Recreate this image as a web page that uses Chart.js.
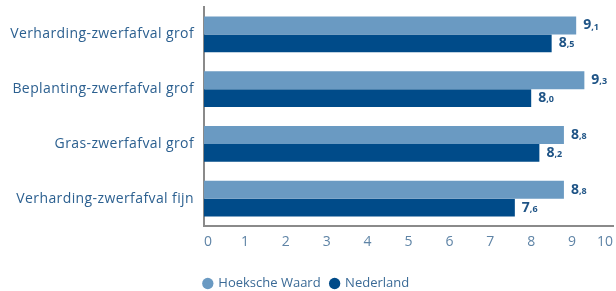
<!DOCTYPE html>
<html><head><meta charset="utf-8">
<script src="https://cdn.jsdelivr.net/npm/chart.js@4"></script>
<style>html,body{margin:0;padding:0;background:#fff;}#wrap{width:616px;height:291px;}</style>
</head><body><div id="wrap"><canvas id="c" width="616" height="291"></canvas></div>
<script>
const categories = ["Verharding-zwerfafval grof","Beplanting-zwerfafval grof","Gras-zwerfafval grof","Verharding-zwerfafval fijn"];
const hoekscheWaard = [9.1, 9.3, 8.8, 8.8];
const nederland = [8.5, 8.0, 8.2, 7.6];
const seriesNames = ["Hoeksche Waard","Nederland"];
const xTicks = [0,1,2,3,4,5,6,7,8,9,10];

const FONT = "'Open Sans'";
const labelPlugin = {
  id: 'valLabels',
  afterDatasetsDraw(chart) {
    const ctx = chart.ctx;
    ctx.save();
    ctx.fillStyle = '#1f5486';
    ctx.textBaseline = 'middle';
    ctx.textAlign = 'left';
    chart.data.datasets.forEach((ds, i) => {
      const meta = chart.getDatasetMeta(i);
      meta.data.forEach((bar, j) => {
        const v = ds.data[j];
        const s = v.toFixed(1).split('.');
        let x = bar.x + 7;
        const y = bar.y;
        ctx.font = 'bold 14px ' + FONT;
        ctx.fillText(s[0], x, y);
        x += ctx.measureText(s[0]).width;
        ctx.font = 'bold 9px ' + FONT;
        ctx.fillText(',' + s[1], x, y + 1.5);
      });
    });
    ctx.restore();
  }
};

function spaced(scale, px) {
  if (scale._spacedWrap) return;
  const orig = scale.drawLabels.bind(scale);
  scale.drawLabels = function (area) {
    const ctx = this.ctx;
    ctx.save();
    ctx.letterSpacing = px;
    orig(area);
    ctx.restore();
  };
  scale._spacedWrap = true;
}

new Chart(document.getElementById('c'), {
  type: 'bar',
  data: {
    labels: categories,
    datasets: [
      { label: seriesNames[0], data: hoekscheWaard, backgroundColor: '#6a9ac2', categoryPercentage: 0.65, barPercentage: 1.0 },
      { label: seriesNames[1], data: nederland, backgroundColor: '#004b89', categoryPercentage: 0.65, barPercentage: 1.0 }
    ]
  },
  plugins: [labelPlugin],
  options: {
    indexAxis: 'y',
    responsive: false,
    animation: false,
    layout: { padding: { top: 7, right: 3, left: 0, bottom: -9 } },
    scales: {
      x: {
        min: 0, max: 10,
        afterBuildTicks(scale) { scale.ticks = xTicks.map(v => ({ value: v })); },
        grid: { display: false, drawTicks: false },
        border: { display: true, color: '#8a8a8a', width: 2 },
        ticks: { align: 'inner', padding: 8, color: '#5f84a6', font: { family: FONT, size: 14 } },
        afterFit(scale) { scale.height = 41; scale.paddingRight = 0; scale.paddingLeft = 0; }
      },
      y: {
        grid: { display: false, drawTicks: false },
        border: { display: true, color: '#8a8a8a', width: 2 },
        ticks: { padding: 10, color: '#2c6090', font: { family: FONT, size: 14 } },
        afterFit(scale) { scale.width = 204; scale.paddingTop = 0; scale.paddingBottom = 0; spaced(scale, '0.4px'); }
      }
    },
    plugins: {
      legend: {
        position: 'bottom',
        labels: { usePointStyle: true, pointStyle: 'circle', boxHeight: 8, boxWidth: 8, color: '#3a6a96', padding: 10, font: { family: FONT, size: 13 } }
      },
      tooltip: { enabled: false }
    }
  }
});
</script></body></html>
